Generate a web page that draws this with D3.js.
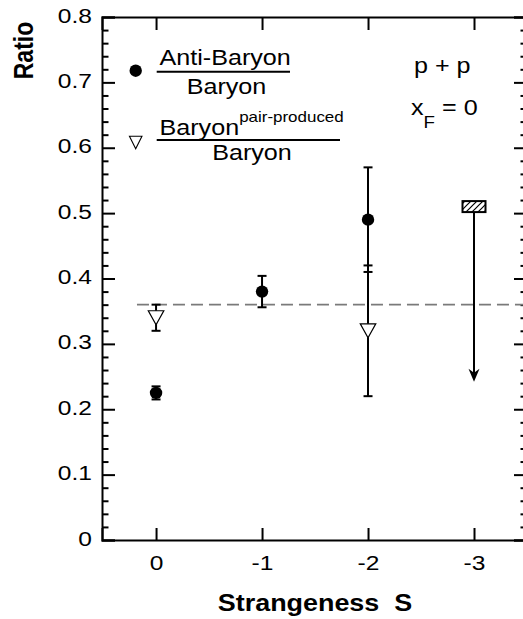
<!DOCTYPE html>
<html>
<head>
<meta charset="utf-8">
<script src="https://cdn.jsdelivr.net/npm/d3@7"></script>
<style>
  html, body { margin: 0; padding: 0; background: #fff; }
  svg { display: block; }
  text { font-family: "Liberation Sans", Arial, Helvetica, sans-serif; fill: #000; }
</style>
</head>
<body>
<svg id="chart" width="523" height="619"></svg>
<script>
// Strangeness values on the x axis and their tick labels
const strangenessTicks = [0, -1, -2, -3];
const strangenessLabels = ["0", "-1", "-2", "-3"];

// Ratio axis ticks
const ratioTicks = [0, 0.1, 0.2, 0.3, 0.4, 0.5, 0.6, 0.7, 0.8];
const ratioLabels = ["0", "0.1", "0.2", "0.3", "0.4", "0.5", "0.6", "0.7", "0.8"];
const ratioMinorTicks = [0.02, 0.04, 0.06, 0.08, 0.12, 0.14, 0.16, 0.18,
  0.22, 0.24, 0.26, 0.28, 0.32, 0.34, 0.36, 0.38, 0.42, 0.44, 0.46, 0.48,
  0.52, 0.54, 0.56, 0.58, 0.62, 0.64, 0.66, 0.68, 0.72, 0.74, 0.76, 0.78];

// Anti-baryon / baryon ratio (filled circles)
const antiS = [0, -1, -2];
const antiRatio = [0.225, 0.38, 0.49];
const antiErr = [0.01, 0.024, 0.08];

// Pair-produced baryon / baryon ratio (open triangles)
const pairS = [0, -2];
const pairRatio = [0.34, 0.32];
const pairErr = [0.02, 0.10];

// Upper limit for S = -3
const limitS = [-3];
const limitRatio = [0.51];
const limitArrowTo = [0.242];

// Horizontal reference level
const refLevel = 0.36;
const refStartS = 0.18;

const SX = 1.17; // horizontal text stretch

const svg = d3.select("#chart");

const x = d3.scaleLinear().domain([0.51, -3.5]).range([102, 527]);
const y = d3.scaleLinear().domain([0, 0.8]).range([540, 17]);

// hatch pattern for the upper-limit box
const defs = svg.append("defs");
const pat = defs.append("pattern")
  .attr("id", "hatch").attr("patternUnits", "userSpaceOnUse")
  .attr("width", 6).attr("height", 6);
pat.append("path")
  .attr("d", "M-1,1 l2,-2 M0,6 l6,-6 M5,7 l2,-2")
  .attr("stroke", "#000").attr("stroke-width", 1.2);

function styleAxis(g) {
  g.selectAll("path.domain").attr("stroke", "#000").attr("stroke-width", 2);
  g.selectAll(".tick line").attr("stroke", "#000").attr("stroke-width", 2);
}

// Left axis: major ticks with labels, pointing inward
const leftAxis = svg.append("g").attr("transform", `translate(${x.range()[0]},0)`)
  .call(d3.axisLeft(y).tickValues(ratioTicks).tickSize(-13)
    .tickFormat((d, i) => ratioLabels[i]).tickPadding(10));
styleAxis(leftAxis);
leftAxis.selectAll(".tick text")
  .attr("font-size", 21).attr("font-family", null)
  .attr("x", -10 / SX).attr("dy", null).attr("y", 5)
  .attr("transform", `scale(${SX},1)`);
svg.append("g").attr("transform", `translate(${x.range()[0]},0)`)
  .call(d3.axisLeft(y).tickValues(ratioMinorTicks).tickSize(-6.5).tickFormat(""))
  .call(g => g.select(".domain").remove())
  .call(styleAxis);

// Right axis ticks
const rightAxis = svg.append("g").attr("transform", `translate(${x.range()[1]},0)`)
  .call(d3.axisRight(y).tickValues(ratioTicks).tickSize(-13).tickFormat(""));
styleAxis(rightAxis);
svg.append("g").attr("transform", `translate(${x.range()[1]},0)`)
  .call(d3.axisRight(y).tickValues(ratioMinorTicks).tickSize(-6.5).tickFormat(""))
  .call(g => g.select(".domain").remove())
  .call(styleAxis);

// Bottom axis with labels
const bottomAxis = svg.append("g").attr("transform", `translate(0,${y.range()[0]})`)
  .call(d3.axisBottom(x).tickValues(strangenessTicks).tickSize(-12)
    .tickFormat((d, i) => strangenessLabels[i]));
styleAxis(bottomAxis);
bottomAxis.selectAll(".tick text")
  .attr("font-size", 21).attr("font-family", null)
  .attr("y", 30).attr("dy", null)
  .attr("transform", `scale(${SX},1)`);

// Top axis ticks
const topAxis = svg.append("g").attr("transform", `translate(0,${y.range()[1]})`)
  .call(d3.axisTop(x).tickValues(strangenessTicks).tickSize(-13).tickFormat(""));
styleAxis(topAxis);

// Reference dashed line
svg.append("line")
  .attr("x1", x(refStartS)).attr("x2", x.range()[1])
  .attr("y1", y(refLevel)).attr("y2", y(refLevel))
  .attr("stroke", "#7a7a7a").attr("stroke-width", 1.6)
  .attr("stroke-dasharray", "12,6");

// error bars
function errorBars(sArr, vArr, eArr) {
  const g = svg.append("g").attr("stroke", "#000").attr("stroke-width", 2);
  sArr.forEach((s, i) => {
    const cx = x(s), y1 = y(vArr[i] + eArr[i]), y2 = y(vArr[i] - eArr[i]);
    g.append("line").attr("x1", cx).attr("x2", cx).attr("y1", y1).attr("y2", y2);
    g.append("line").attr("x1", cx - 4.5).attr("x2", cx + 4.5).attr("y1", y1).attr("y2", y1);
    g.append("line").attr("x1", cx - 4.5).attr("x2", cx + 4.5).attr("y1", y2).attr("y2", y2);
  });
}
errorBars(antiS, antiRatio, antiErr);
errorBars(pairS, pairRatio, pairErr);

// down-pointing triangle path centred on its bounding box
function triPath(cx, cy, w, h) {
  return `M${cx - w / 2},${cy - h / 2} L${cx + w / 2},${cy - h / 2} L${cx},${cy + h / 2} Z`;
}

svg.append("g").selectAll("path").data(pairS).join("path")
  .attr("d", (s, i) => triPath(x(s), y(pairRatio[i]), 15.5, 14))
  .attr("fill", "#fff").attr("stroke", "#000").attr("stroke-width", 1.2);

svg.append("g").selectAll("circle").data(antiS).join("circle")
  .attr("cx", s => x(s)).attr("cy", (s, i) => y(antiRatio[i]))
  .attr("r", 6.2).attr("fill", "#000");

// Upper limit: hatched box with downward arrow
limitS.forEach((s, i) => {
  const cx = x(s), cy = y(limitRatio[i]);
  const tip = y(limitArrowTo[i]);
  svg.append("line").attr("x1", cx).attr("x2", cx)
    .attr("y1", cy + 5.5).attr("y2", tip - 6)
    .attr("stroke", "#000").attr("stroke-width", 2);
  svg.append("path")
    .attr("d", `M${cx},${tip} L${cx - 5.5},${tip - 13} L${cx},${tip - 9} L${cx + 5.5},${tip - 13} Z`)
    .attr("fill", "#000");
  svg.append("rect")
    .attr("x", cx - 11.5).attr("y", cy - 5.5).attr("width", 23).attr("height", 11)
    .attr("fill", "url(#hatch)").attr("stroke", "#000").attr("stroke-width", 2);
});

// text helper with horizontal stretch
function label(px, py, str, size, anchor, weight) {
  return svg.append("text")
    .attr("transform", `translate(${px},${py}) scale(${SX},1)`)
    .attr("font-size", size).attr("text-anchor", anchor || "start")
    .attr("font-weight", weight || "normal")
    .text(str);
}

// Axis titles
label(315, 611, "Strangeness\u00a0\u00a0S", 23, "middle", "bold");
svg.append("text")
  .attr("transform", `translate(33,50.5) scale(${SX},1) rotate(-90)`)
  .attr("font-size", 23).attr("font-weight", "bold").attr("text-anchor", "middle")
  .text("Ratio");

// Legend
svg.append("circle").attr("cx", 135.7).attr("cy", 70.7).attr("r", 6.2).attr("fill", "#000");
label(159.5, 65, "Anti-Baryon", 21.5);
svg.append("line").attr("x1", 156.7).attr("x2", 290).attr("y1", 71.7).attr("y2", 71.7)
  .attr("stroke", "#000").attr("stroke-width", 2);
label(226.5, 93.5, "Baryon", 21.5, "middle");

svg.append("path").attr("d", triPath(135.7, 142.5, 12.5, 12.5))
  .attr("fill", "#fff").attr("stroke", "#000").attr("stroke-width", 1.1);
const num2 = label(159.5, 135, "Baryon", 21.5);
num2.append("tspan").attr("font-size", 14.5).attr("dy", -13).text("pair-produced");
svg.append("line").attr("x1", 156.7).attr("x2", 340).attr("y1", 140).attr("y2", 140)
  .attr("stroke", "#000").attr("stroke-width", 2);
label(252, 160, "Baryon", 21.5, "middle");

// Collision system annotation
label(414, 73, "p + p", 21.5);
const xf = label(411, 115, "x", 21.5);
xf.append("tspan").attr("font-size", 16).attr("dy", 13).text("F");
xf.append("tspan").attr("dy", -13).text(" = 0");
</script>
</body>
</html>
